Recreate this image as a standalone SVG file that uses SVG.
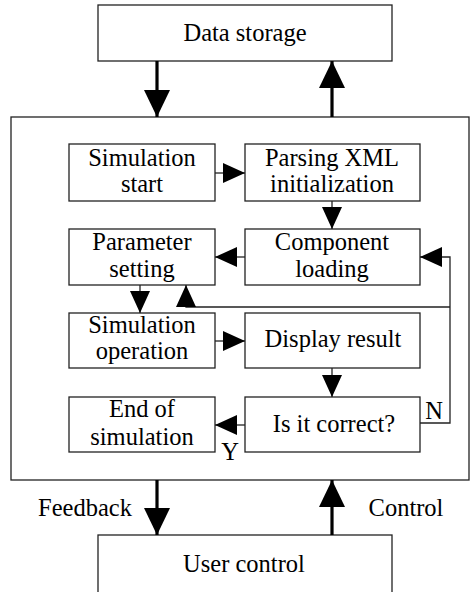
<svg xmlns="http://www.w3.org/2000/svg" width="470" height="592" viewBox="0 0 470 592">
<style>
.box{fill:#fff;stroke:#222;stroke-width:1.3}
.outer{fill:none;stroke:#222;stroke-width:1.3}
.t{font-family:"Liberation Serif","Times New Roman",serif;font-size:24.5px;fill:#000;text-anchor:middle}
.thin{fill:none;stroke:#222;stroke-width:1.3}
.thick{fill:none;stroke:#000;stroke-width:3.2}
</style>
<defs>
<marker id="sa" markerUnits="userSpaceOnUse" markerWidth="22" markerHeight="20" refX="22" refY="10" orient="auto">
<path d="M0,0 L22,10 L0,20 Z" fill="#000"/>
</marker>
<marker id="ba" markerUnits="userSpaceOnUse" markerWidth="27" markerHeight="26" refX="27" refY="13" orient="auto">
<path d="M0,0 L27,13 L0,26 Z" fill="#000"/>
</marker>
</defs>
<rect class="outer" x="11" y="117" width="458" height="363"/>
<g id="data-storage"><rect class="box" x="98" y="5" width="294" height="56"/><text class="t" x="245" y="41">Data storage</text></g>
<g id="sim-start"><rect class="box" x="69" y="144" width="146" height="57"/><text class="t" x="142" y="166">Simulation</text><text class="t" x="142" y="192">start</text></g>
<g id="parsing"><rect class="box" x="245" y="144" width="175" height="57"/><text class="t" x="332" y="166">Parsing XML</text><text class="t" x="332" y="192">initialization</text></g>
<g id="param"><rect class="box" x="69" y="229" width="146" height="56"/><text class="t" x="142" y="250">Parameter</text><text class="t" x="142" y="277">setting</text></g>
<g id="component"><rect class="box" x="245" y="229" width="175" height="56"/><text class="t" x="332" y="250">Component</text><text class="t" x="332" y="277">loading</text></g>
<g id="sim-op"><rect class="box" x="69" y="313" width="146" height="55"/><text class="t" x="142" y="333">Simulation</text><text class="t" x="142" y="359">operation</text></g>
<g id="display"><rect class="box" x="245" y="313" width="175" height="55"/><text class="t" x="333" y="347">Display result</text></g>
<g id="end"><rect class="box" x="69" y="397" width="146" height="55"/><text class="t" x="142" y="417">End of</text><text class="t" x="142" y="445">simulation</text></g>
<g id="correct"><rect class="box" x="245" y="397" width="175" height="55"/><text class="t" x="334" y="432">Is it correct?</text></g>
<g id="user-control"><rect class="box" x="98" y="535" width="294" height="62"/><text class="t" x="244" y="572">User control</text></g>
<g id="connectors">
<line class="thick" x1="157" y1="61" x2="157" y2="117" marker-end="url(#ba)"/>
<line class="thick" x1="332" y1="117" x2="332" y2="61" marker-end="url(#ba)"/>
<line class="thin" x1="215" y1="173" x2="245" y2="173" marker-end="url(#sa)"/>
<line class="thin" x1="332" y1="201" x2="332" y2="229" marker-end="url(#sa)"/>
<line class="thin" x1="245" y1="257" x2="215" y2="257" marker-end="url(#sa)"/>
<line class="thin" x1="140" y1="285" x2="140" y2="313" marker-end="url(#sa)"/>
<line class="thin" x1="215" y1="341" x2="245" y2="341" marker-end="url(#sa)"/>
<line class="thin" x1="332" y1="368" x2="332" y2="397" marker-end="url(#sa)"/>
<line class="thin" x1="245" y1="425" x2="215" y2="425" marker-end="url(#sa)"/>
<polyline class="thin" points="420,423 450,423 450,257 420,257" marker-end="url(#sa)"/>
<polyline class="thin" points="450,307 186,307 186,285" marker-end="url(#sa)"/>
<line class="thick" x1="157" y1="480" x2="157" y2="535" marker-end="url(#ba)"/>
<line class="thick" x1="332" y1="535" x2="332" y2="480" marker-end="url(#ba)"/>
<text class="t" x="434" y="419">N</text>
<text class="t" x="230" y="460">Y</text>
<text class="t" x="85" y="516">Feedback</text>
<text class="t" x="406" y="516">Control</text>
</g>
</svg>
